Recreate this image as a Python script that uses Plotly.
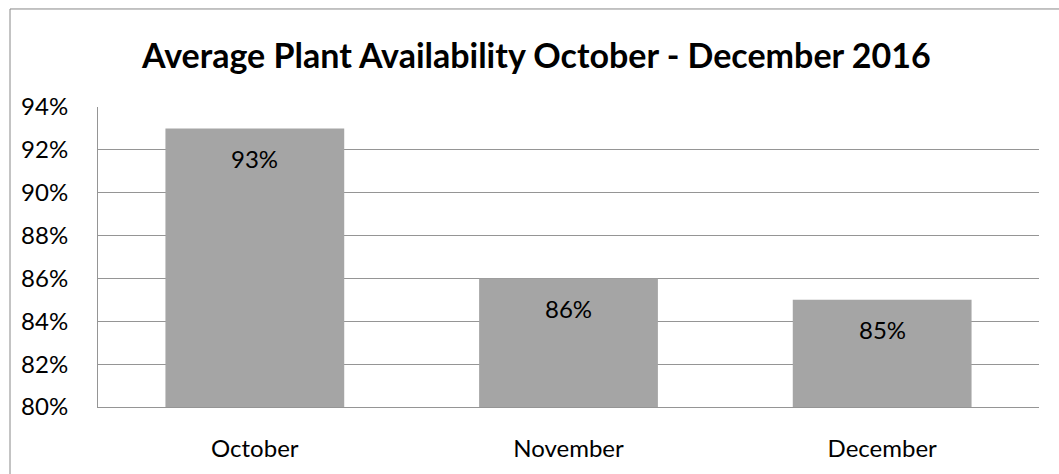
import plotly.graph_objects as go

months = ["October", "November", "December"]
availability = [0.93, 0.86, 0.85]
labels = ["93%", "86%", "85%"]
title_text = "Average Plant Availability October - December 2016"

W, H = 1059, 474
L, R, T, B = 98, 20, 107, 64
pw, ph = W - L - R, H - T - B

fig = go.Figure()
fig.add_trace(go.Bar(
    x=months, y=availability,
    marker=dict(color="#A5A5A5", line=dict(width=0)),
    width=0.57,
    hoverinfo="skip",
))

for m, v, t in zip(months, availability, labels):
    fig.add_annotation(x=m, y=v, text=t, showarrow=False, yanchor="middle",
                       yshift=-30, font=dict(family="Lato", size=24, color="#000"))

fig.add_annotation(xref="paper", yref="paper", x=(536 - L) / pw, y=(H - B - 54) / ph,
                   text="<b>" + title_text + "</b>", showarrow=False,
                   xanchor="center", yanchor="middle",
                   font=dict(family="Lato", size=34, color="#000"))

# outer chart border
fig.add_shape(type="rect", xref="paper", yref="paper",
              x0=(10 - L) / pw, x1=(W + 5 - L) / pw,
              y0=(H - B - (H + 5)) / ph, y1=(H - B - 8) / ph,
              line=dict(color="#888888", width=1), fillcolor="rgba(0,0,0,0)", layer="below")

fig.update_layout(
    width=W, height=H,
    margin=dict(l=L, r=R, t=T, b=B),
    paper_bgcolor="white", plot_bgcolor="white",
    showlegend=False,
    font=dict(family="Lato", size=24, color="#000"),
    bargap=0.43,
)
fig.update_yaxes(range=[0.80, 0.94], dtick=0.02, tick0=0.80, tickformat=".0%",
                 showgrid=True, gridcolor="#959595", gridwidth=1,
                 showline=True, linecolor="#959595", linewidth=1,
                 zeroline=False, ticks="", ticklabelstandoff=24,
                 tickfont=dict(family="Lato", size=24, color="#000"))
fig.update_xaxes(showline=True, linecolor="#959595", linewidth=1,
                 showgrid=False, ticks="", ticklabelstandoff=20,
                 tickfont=dict(family="Lato", size=24, color="#000"))

fig.write_html("out.html")
